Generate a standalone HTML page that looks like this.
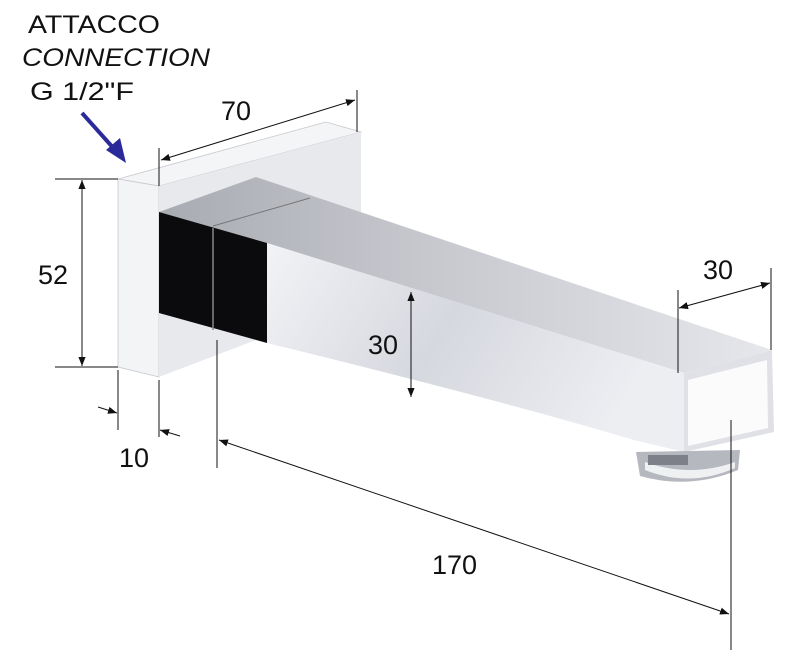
<!DOCTYPE html>
<html><head><meta charset="utf-8"><style>
html,body{margin:0;padding:0;background:#fff;}
svg{display:block}
text{font-family:"Liberation Sans","DejaVu Sans",sans-serif;fill:#111}
</style></head><body>
<svg width="800" height="661" viewBox="0 0 800 661" xmlns="http://www.w3.org/2000/svg">
<defs>
<marker id="a" viewBox="0 0 10 10" refX="10" refY="5" markerWidth="9" markerHeight="9" orient="auto-start-reverse"><path d="M0,1 L10,5 L0,9 z" fill="#111"/></marker>
<linearGradient id="side" x1="0" y1="0" x2="1" y2="0.3"><stop offset="0" stop-color="#f2f3f6"/><stop offset="0.5" stop-color="#d6d8df"/><stop offset="1" stop-color="#eceef2"/></linearGradient>
<linearGradient id="top" x1="0" y1="0" x2="1" y2="0"><stop offset="0" stop-color="#a9abb2"/><stop offset="0.4" stop-color="#c4c6cc"/><stop offset="1" stop-color="#e6e7eb"/></linearGradient>
</defs>
<text x="28" y="33" font-size="25" textLength="132" lengthAdjust="spacingAndGlyphs">ATTACCO</text>
<text x="22" y="66" font-size="25" font-style="italic" textLength="188" lengthAdjust="spacingAndGlyphs">CONNECTION</text>
<text x="30" y="100" font-size="25" textLength="104" lengthAdjust="spacingAndGlyphs">G 1/2"F</text>
<line x1="82" y1="113" x2="116" y2="151" stroke="#2a2a9a" stroke-width="4"/>
<path d="M126,163 L106,150 L120,138 z" fill="#2a2a9a"/>

<path d="M118,179 L326,122 L361,132 L159,186 z" fill="#f4f5f7" stroke="#c8c9cd" stroke-width="0.8"/>
<path d="M118,179 L159,186 L159,377 L118,367 z" fill="#f3f4f6" stroke="#c8c9cd" stroke-width="0.8"/>
<path d="M159,186 L361,132 L361,300 L159,377 z" fill="#e8e9ed"/>
<path d="M159,212 L256,177 L772,350 L684,373 L267,243 L159,212 z" fill="url(#top)"/>
<path d="M213,226 L310,198" stroke="#777" stroke-width="1"/>
<path d="M159,212 L267,243 L267,343 L159,313 z" fill="#0b0b0d"/>
<line x1="213" y1="228" x2="213" y2="330" stroke="#888" stroke-width="1.5"/>
<path d="M267,243 L684,373 L684,452 L634,440 Q500,400 267,343 z" fill="url(#side)"/>
<path d="M684,373 L772,350 L774,432 L684,452 z" fill="#dfe1e6"/>
<path d="M688,380 L767,360 L768,428 L688,446 z" fill="#fbfbfc"/>
<path d="M636,452 L740,450 L738,470 Q690,490 640,476 z" fill="#b5b8bf"/>
<path d="M645,470 Q690,488 735,468 L735,462 Q690,478 645,462 z" fill="#eef0f2"/>
<rect x="648" y="455" width="40" height="10" fill="#7d8088"/>

<g stroke="#111" stroke-width="1" fill="none">
<line x1="55" y1="179" x2="118" y2="179"/>
<line x1="55" y1="367" x2="118" y2="367"/>
<line x1="82" y1="180" x2="82" y2="366" marker-start="url(#a)" marker-end="url(#a)"/>
<line x1="159" y1="148" x2="159" y2="186"/>
<line x1="357" y1="90" x2="357" y2="132"/>
<line x1="161" y1="160" x2="355" y2="100" marker-start="url(#a)" marker-end="url(#a)"/>
<line x1="118" y1="370" x2="118" y2="430"/>
<line x1="159" y1="380" x2="159" y2="437"/>
<line x1="98" y1="407" x2="117" y2="413" marker-end="url(#a)"/>
<line x1="180" y1="436" x2="160" y2="430" marker-end="url(#a)"/>
<line x1="411" y1="292" x2="411" y2="397" marker-start="url(#a)" marker-end="url(#a)"/>
<line x1="678" y1="290" x2="678" y2="373"/>
<line x1="771" y1="268" x2="771" y2="350"/>
<line x1="679" y1="308" x2="770" y2="283" marker-start="url(#a)" marker-end="url(#a)"/>
<line x1="217" y1="340" x2="217" y2="468"/>
<line x1="731" y1="420" x2="731" y2="650"/>
<line x1="219" y1="440" x2="729" y2="614" marker-start="url(#a)" marker-end="url(#a)"/>
</g>
<text x="221" y="120" font-size="27">70</text>
<text x="38" y="284" font-size="27">52</text>
<text x="119" y="467" font-size="27">10</text>
<text x="368" y="354" font-size="27">30</text>
<text x="703" y="279" font-size="27">30</text>
<text x="432" y="574" font-size="27">170</text>
</svg>
</body></html>
